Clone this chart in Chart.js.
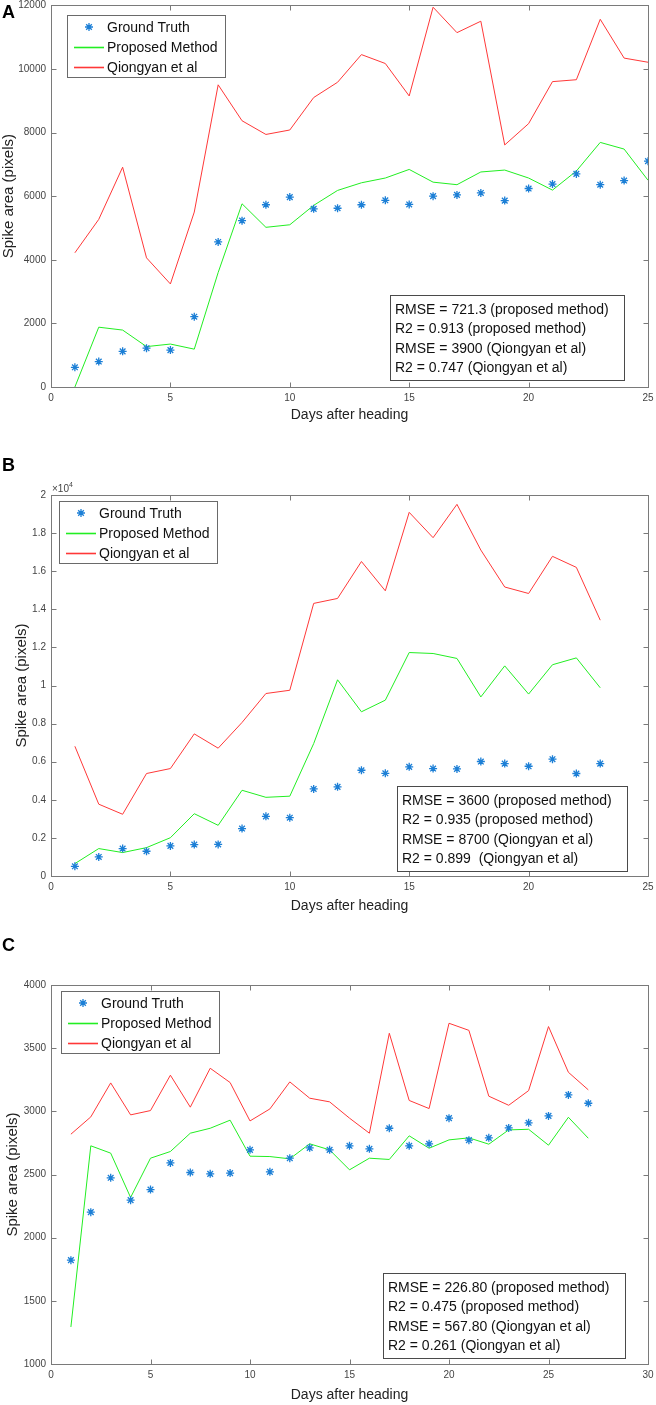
<!DOCTYPE html>
<html>
<head>
<meta charset="utf-8">
<script src="https://cdn.jsdelivr.net/npm/chart.js@4.4.1/dist/chart.umd.min.js"></script>
<style>
  html, body { margin: 0; padding: 0; background: #fff; }
  body { width: 656px; height: 1405px; position: relative; overflow: hidden; }
  .panel { position: absolute; left: 0; width: 656px; }
</style>
</head>
<body>
<div class="panel" style="top:0px;height:430px"><canvas id="chartA" width="656" height="430"></canvas></div>
<div class="panel" style="top:440px;height:478px"><canvas id="chartB" width="656" height="478"></canvas></div>
<div class="panel" style="top:918px;height:487px"><canvas id="chartC" width="656" height="487"></canvas></div>
<script>
// ---- data ----
const daysA = [1,2,3,4,5,6,7,8,9,10,11,12,13,14,15,16,17,18,19,20,21,22,23,24,25];
const truthA = [620,800,1120,1220,1160,2210,4560,5230,5730,5970,5600,5620,5730,5870,5740,6000,6040,6100,5860,6240,6380,6700,6360,6490,7100];
const proposedA = [0,1880,1790,1270,1350,1190,3600,5760,5020,5100,5710,6180,6420,6570,6840,6440,6360,6760,6820,6570,6190,6790,7690,7480,6500];
const qiongyanA = [4220,5270,6910,4060,3240,5500,9500,8370,7940,8080,9100,9580,10450,10170,9150,11940,11140,11500,7610,8280,9600,9660,11560,10340,10210];
const statsA = ['RMSE = 721.3 (proposed method)', 'R2 = 0.913 (proposed method)', 'RMSE = 3900 (Qiongyan et al)', 'R2 = 0.747 (Qiongyan et al)'];

const daysB = [1,2,3,4,5,6,7,8,9,10,11,12,13,14,15,16,17,18,19,20,21,22,23];
const truthB = [510,1000,1440,1300,1580,1650,1660,2490,3130,3060,4570,4680,5550,5390,5730,5640,5620,6010,5900,5760,6130,5380,5900];
const proposedB = [650,1440,1230,1490,2010,3270,2660,4500,4130,4190,6950,10300,8620,9230,11730,11680,11420,9400,11030,9550,11090,11450,9880];
const qiongyanB = [6810,3770,3240,5380,5640,7460,6710,8060,9580,9750,14310,14570,16510,14970,19090,17760,19510,17110,15170,14830,16780,16200,13430];
const statsB = ['RMSE = 3600 (proposed method)', 'R2 = 0.935 (proposed method)', 'RMSE = 8700 (Qiongyan et al)', 'R2 = 0.899  (Qiongyan et al)'];

const daysC = [1,2,3,4,5,6,7,8,9,10,11,12,13,14,15,16,17,18,19,20,21,22,23,24,25,26,27];
const truthC = [1822,2202,2474,2297,2381,2592,2516,2505,2511,2695,2521,2629,2711,2695,2727,2703,2866,2727,2743,2946,2772,2790,2869,2909,2964,3130,3064];
const proposedC = [1293,2727,2669,2318,2629,2682,2827,2866,2930,2645,2642,2624,2743,2695,2537,2629,2619,2806,2708,2774,2790,2740,2853,2858,2732,2953,2787];
const qiongyanC = [2819,2956,3225,2972,3006,3286,3033,3341,3228,2924,3019,3233,3104,3075,2946,2827,3618,3086,3022,3697,3641,3120,3048,3164,3671,3309,3170];
const statsC = ['RMSE = 226.80 (proposed method)', 'R2 = 0.475 (proposed method)', 'RMSE = 567.80 (Qiongyan et al)', 'R2 = 0.261 (Qiongyan et al)'];

const legendLabels = ['Ground Truth', 'Proposed Method', 'Qiongyan et al'];

const BLUE = '#1c7fd6';
const GREEN = '#22ee22';
const RED = '#ff3838';
const FONT = '"Liberation Sans", Arial, Helvetica, sans-serif';

function pts(xs, ys) {
  return xs.map((x, i) => ({ x: x, y: ys[i] }));
}

function drawStar(ctx, x, y, r) {
  ctx.beginPath();
  ctx.moveTo(x - r, y); ctx.lineTo(x + r, y);
  ctx.moveTo(x, y - r); ctx.lineTo(x, y + r);
  const d = r * 0.7071;
  ctx.moveTo(x - d, y - d); ctx.lineTo(x + d, y + d);
  ctx.moveTo(x - d, y + d); ctx.lineTo(x + d, y - d);
  ctx.stroke();
}

function hline(ctx, x1, y1, x2, y2) {
  ctx.beginPath();
  ctx.moveTo(x1, y1);
  ctx.lineTo(x2, y2);
  ctx.stroke();
}

// matlab-style box, inward ticks, legend, stats box and titles
const matlabDecor = {
  id: 'matlabDecor',
  afterDraw(chart, args, o) {
    const ctx = chart.ctx;
    const a = chart.chartArea;
    const sx = chart.scales.x, sy = chart.scales.y;
    const L = Math.round(a.left) + 0.5, R = Math.round(a.right) + 0.5;
    const T = Math.round(a.top) + 0.5, B = Math.round(a.bottom) + 0.5;
    ctx.save();
    ctx.strokeStyle = '#7a7a7a';
    ctx.lineWidth = 1;
    ctx.strokeRect(L, T, R - L, B - T);
    sx.ticks.forEach(t => {
      const px = Math.round(sx.getPixelForValue(t.value)) + 0.5;
      hline(ctx, px, B, px, B - 5);
      hline(ctx, px, T, px, T + 5);
    });
    sy.ticks.forEach(t => {
      const py = Math.round(sy.getPixelForValue(t.value)) + 0.5;
      hline(ctx, L, py, L + 5, py);
      hline(ctx, R, py, R - 5, py);
    });

    // legend
    const lg = o.legend;
    ctx.fillStyle = '#fff';
    ctx.fillRect(lg.x, lg.y, 158, 62);
    ctx.strokeStyle = '#6a6a6a';
    ctx.strokeRect(lg.x + 0.5, lg.y + 0.5, 158, 62);
    ctx.font = '14px ' + FONT;
    ctx.textBaseline = 'middle';
    ctx.textAlign = 'left';
    ctx.fillStyle = '#111';
    legendLabels.forEach((lab, i) => {
      const yy = lg.y + 12 + i * 20;
      if (i === 0) {
        ctx.strokeStyle = BLUE; ctx.lineWidth = 1.3;
        drawStar(ctx, lg.x + 22, yy, 4);
      } else {
        ctx.strokeStyle = i === 1 ? GREEN : RED; ctx.lineWidth = 1.6;
        hline(ctx, lg.x + 7, yy + 0.5, lg.x + 37, yy + 0.5);
      }
      ctx.fillText(lab, lg.x + 40, yy + 1);
    });

    // stats box
    const st = o.stats;
    ctx.fillStyle = '#fff';
    ctx.fillRect(st.x, st.y, st.w, 85);
    ctx.strokeStyle = '#4a4a4a'; ctx.lineWidth = 1;
    ctx.strokeRect(st.x + 0.5, st.y + 0.5, st.w, 85);
    ctx.fillStyle = '#111';
    st.lines.forEach((s, i) => {
      ctx.fillText(s, st.x + 5, st.y + 15 + i * 19.5);
    });

    // panel letter
    ctx.font = 'bold 18px ' + FONT;
    ctx.fillStyle = '#000';
    ctx.fillText(o.letter, 2, o.letterY);

    // axis titles
    ctx.fillStyle = '#222';
    ctx.font = '14px ' + FONT;
    ctx.textAlign = 'center';
    ctx.fillText('Days after heading', (a.left + a.right) / 2, o.xTitleY);
    ctx.save();
    ctx.translate(o.yTitleX, (a.top + a.bottom) / 2);
    ctx.rotate(-Math.PI / 2);
    ctx.font = '15px ' + FONT;
    ctx.fillText('Spike area (pixels)', 0, 0);
    ctx.restore();

    // exponent label
    if (o.exponent) {
      ctx.textAlign = 'left';
      ctx.fillStyle = '#444';
      ctx.font = '10px ' + FONT;
      ctx.fillText('\u00d710', a.left + 1, a.top - 6);
      ctx.font = '7px ' + FONT;
      ctx.fillText(o.exponent, a.left + 18, a.top - 10);
    }
    ctx.restore();
  }
};

function makePanel(id, p) {
  const canvas = document.getElementById(id);
  const H = canvas.height;
  return new Chart(canvas.getContext('2d'), {
    type: 'scatter',
    data: {
      datasets: [
        { label: legendLabels[0], data: pts(p.days, p.truth), showLine: false,
          pointStyle: 'star', pointRadius: 4, pointBorderWidth: 1.3,
          borderColor: BLUE, backgroundColor: BLUE, order: 0 },
        { label: legendLabels[1], data: pts(p.days, p.proposed), showLine: true,
          borderColor: GREEN, borderWidth: 1, pointRadius: 0, tension: 0, order: 1 },
        { label: legendLabels[2], data: pts(p.days, p.qiongyan), showLine: true,
          borderColor: RED, borderWidth: 1, pointRadius: 0, tension: 0, order: 2 }
      ]
    },
    options: {
      responsive: false,
      animation: false,
      events: [],
      layout: { padding: { top: p.top, right: 8, left: 0, bottom: 0 } },
      scales: {
        x: {
          type: 'linear', min: 0, max: p.xMax,
          grid: { display: false, drawTicks: false },
          border: { display: false },
          ticks: { stepSize: 5, padding: 5, color: '#444', font: { family: FONT, size: 10 } },
          afterFit: s => { s.height = H - p.bottom; s.paddingLeft = 0; s.paddingRight = 0; }
        },
        y: {
          min: p.yMin, max: p.yMax,
          grid: { display: false, drawTicks: false },
          border: { display: false },
          ticks: { stepSize: p.yStep, padding: 5, color: '#444', font: { family: FONT, size: 10 },
                   callback: p.tickFmt },
          afterFit: s => { s.width = 51; s.paddingTop = 0; s.paddingBottom = 0; }
        }
      },
      plugins: {
        legend: { display: false },
        tooltip: { enabled: false },
        matlabDecor: p.decor
      }
    },
    plugins: [matlabDecor]
  });
}

makePanel('chartA', {
  days: daysA, truth: truthA, proposed: proposedA, qiongyan: qiongyanA,
  xMax: 25, yMin: 0, yMax: 12000, yStep: 2000, top: 5, bottom: 387,
  tickFmt: v => String(v),
  decor: { legend: { x: 67, y: 15 }, stats: { x: 390, y: 295, w: 234, lines: statsA },
           letter: 'A', letterY: 13, xTitleY: 415, yTitleX: 9 }
});

makePanel('chartB', {
  days: daysB, truth: truthB, proposed: proposedB, qiongyan: qiongyanB,
  xMax: 25, yMin: 0, yMax: 20000, yStep: 2000, top: 55, bottom: 436,
  tickFmt: v => String(Number((v / 10000).toFixed(1))),
  decor: { legend: { x: 59, y: 61 }, stats: { x: 397, y: 346, w: 230, lines: statsB },
           letter: 'B', letterY: 26, xTitleY: 466, yTitleX: 22, exponent: '4' }
});

makePanel('chartC', {
  days: daysC, truth: truthC, proposed: proposedC, qiongyan: qiongyanC,
  xMax: 30, yMin: 1000, yMax: 4000, yStep: 500, top: 67, bottom: 446,
  tickFmt: v => String(v),
  decor: { legend: { x: 61, y: 73 }, stats: { x: 383, y: 355, w: 242, lines: statsC },
           letter: 'C', letterY: 28, xTitleY: 477, yTitleX: 13 }
});
</script>
</body>
</html>
